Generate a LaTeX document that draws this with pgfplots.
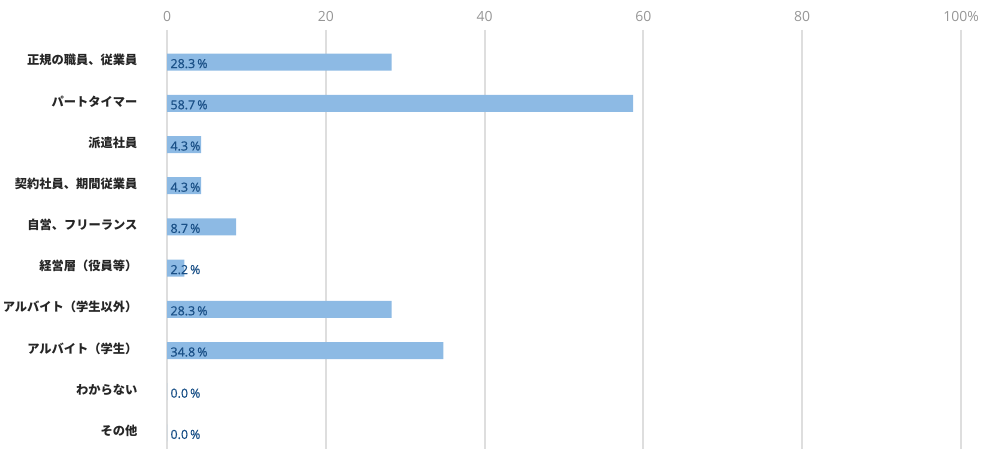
\documentclass[border=0pt]{standalone}
\usepackage{pgfplots}
\pgfplotsset{compat=1.18}
\usepackage{fontspec}
\setmainfont{Open Sans}
\newfontfamily\cjk{Noto Sans CJK JP}
\newfontfamily\lblfont{Open Sans}[FakeBold=0.7]
\definecolor{barblue}{RGB}{141,186,228}
\definecolor{gridgray}{RGB}{222,222,222}
\definecolor{tickgray}{RGB}{150,150,150}
\definecolor{lblblue}{RGB}{26,80,135}
\begin{document}
\begin{tikzpicture}[x=1bp,y=1bp]
\path[use as bounding box] (0,0) rectangle (986,449);
\begin{axis}[
  at={(167bp,0bp)}, anchor=south west,
  width=794bp, height=419bp, scale only axis,
  xmin=0, xmax=100, ymin=-0.78, ymax=9.39, y dir=reverse,
  axis line style={draw=none},
  major tick length=0pt,
  xtick={0,20,40,60,80,100},
  xticklabels={0,20,40,60,80,100\%},
  xticklabel pos=upper,
  xmajorgrids, grid style={draw=gridgray, line width=2bp},
  ytick={0,1,2,3,4,5,6,7,8,9},
  yticklabels={正規の職員、従業員,パートタイマー,派遣社員,契約社員、期間従業員,自営、フリーランス,経営層（役員等）,アルバイト（学生以外）,アルバイト（学生）,わからない,その他},
  x tick label style={font=\fontsize{14}{16}\selectfont, text=tickgray, yshift=5bp},
  y tick label style={font=\cjk\bfseries\fontsize{12.3}{14}\selectfont, text=black!85, xshift=-26bp, yshift=2bp},
  /pgf/number format/assume math mode=true,
  clip=false,
]
\addplot[xbar, bar width=17bp, fill=barblue, draw=none] coordinates {
(28.3,0) (58.7,1) (4.3,2) (4.3,3) (8.7,4) (2.2,5) (28.3,6) (34.8,7) (0,8) (0,9)};
\addplot[draw=none, mark=none, point meta=explicit,
  nodes near coords={\pgfmathprintnumber[fixed,fixed zerofill,precision=1]{\pgfplotspointmeta}\,\%},
  every node near coord/.append style={anchor=west, font=\lblfont\fontsize{12.5}{14}\selectfont, text=lblblue, yshift=-1.5bp}]
coordinates {(0,0) [28.3] (0,1) [58.7] (0,2) [4.3] (0,3) [4.3] (0,4) [8.7] (0,5) [2.2] (0,6) [28.3] (0,7) [34.8] (0,8) [0] (0,9) [0]};
\end{axis}
\end{tikzpicture}
\end{document}
